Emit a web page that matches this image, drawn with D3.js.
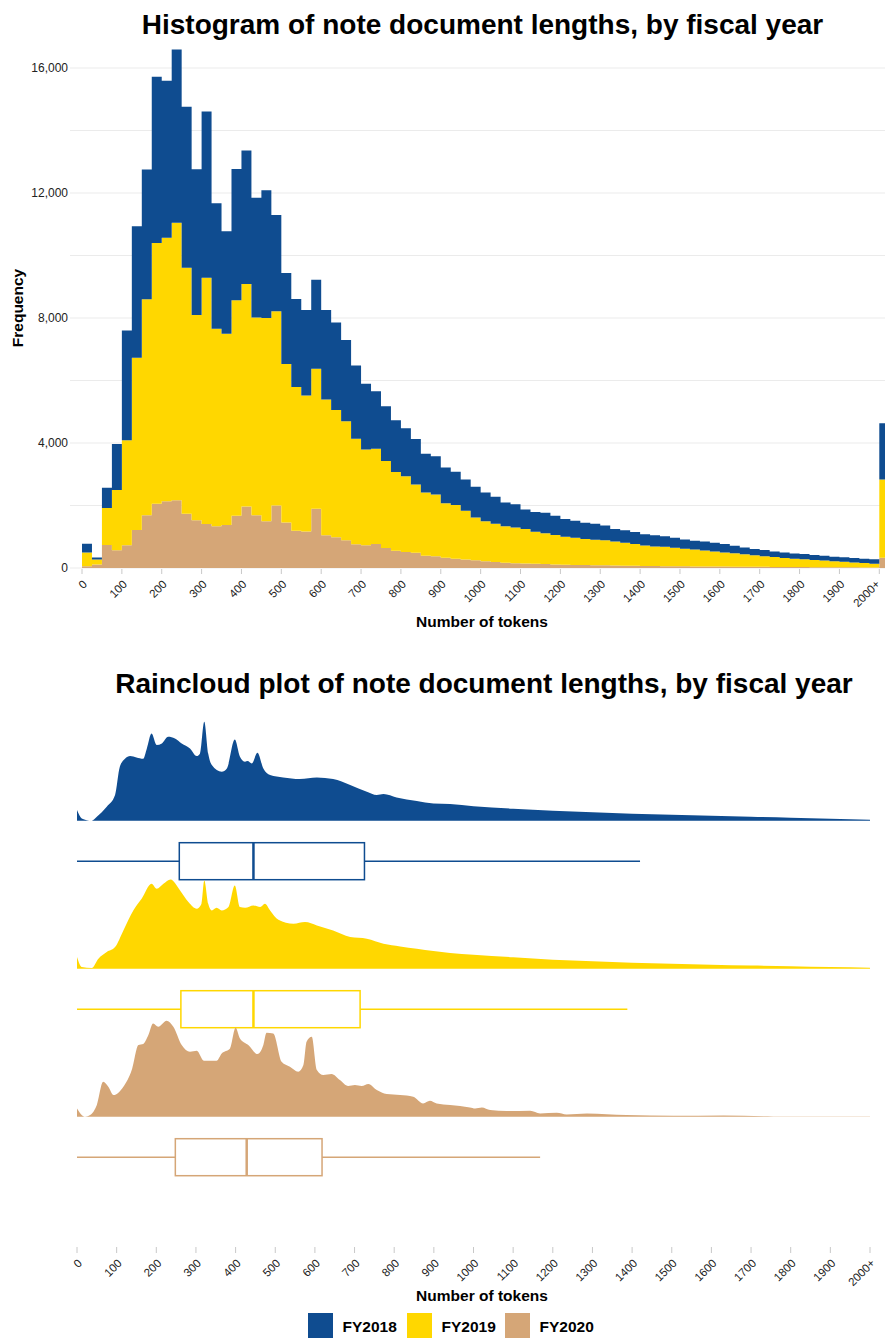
<!DOCTYPE html>
<html><head><meta charset="utf-8">
<script src="https://cdn.jsdelivr.net/npm/d3@7"></script>
<style>
body{margin:0;background:#fff}
text{font-family:"Liberation Sans",Arial,Helvetica,sans-serif}
</style>
</head><body>
<svg id="chart" width="885" height="1338"></svg>
<script>
// ---------------- DATA ----------------
const years = ["FY2018", "FY2019", "FY2020"];
const colors = ["#0f4c90", "#ffd700", "#d5a677"];

// histogram bin starts (token count, bin width 25; last bin = 2000+)
const binStarts = [0,25,50,75,100,125,150,175,200,225,250,275,300,325,350,375,400,425,450,475,
  500,525,550,575,600,625,650,675,700,725,750,775,800,825,850,875,900,925,950,975,
  1000,1025,1050,1075,1100,1125,1150,1175,1200,1225,1250,1275,1300,1325,1350,1375,1400,1425,1450,1475,
  1500,1525,1550,1575,1600,1625,1650,1675,1700,1725,1750,1775,1800,1825,1850,1875,1900,1925,1950,1975,2000];
const binWidth = 25;

const fy2018 = [280,65,650,1470,3510,4215,4150,5320,5020,5540,5150,4660,5320,4010,3280,4205,4270,3835,4090,3080,
  2910,2820,2740,2850,2865,2800,2600,2340,2110,1835,1750,1650,1540,1455,1245,1225,1145,1060,1000,980,
  920,860,760,740,620,630,660,610,570,545,520,515,475,405,405,380,360,360,340,315,
  295,280,290,280,265,245,215,200,195,180,180,165,170,160,150,140,145,140,140,140,1795];
const fy2019 = [440,160,1180,1930,3365,5505,6915,8345,8430,8880,7870,6570,7880,6325,6120,6895,7120,6330,6500,6220,
  5070,4600,4350,4475,4345,4075,3815,3380,3065,3050,2785,2520,2420,2190,2020,1975,1750,1720,1560,1375,
  1285,1230,1170,1145,1105,1025,985,945,895,865,835,815,800,765,730,700,655,628,620,592,
  565,538,510,482,454,426,398,370,342,314,286,268,250,232,214,195,176,158,140,122,2505];
const fy2020 = [60,110,740,570,725,1220,1685,2055,2140,2170,1740,1530,1410,1335,1380,1670,1970,1685,1500,2000,
  1460,1190,1170,1900,1045,985,885,760,725,770,640,555,515,485,395,375,325,300,270,245,
  215,190,170,155,145,135,125,115,105,100,95,90,85,80,75,70,65,62,60,58,
  55,52,50,48,46,44,42,40,38,36,34,32,30,28,26,25,24,22,20,18,330];

const freqTicks = [0, 4000, 8000, 12000, 16000];
const freqGrid = [0, 2000, 4000, 6000, 8000, 10000, 12000, 14000, 16000];
const tokenTicks = [0,100,200,300,400,500,600,700,800,900,1000,1100,1200,1300,1400,1500,1600,1700,1800,1900,2000];
const tokenTickLabels = ["0","100","200","300","400","500","600","700","800","900","1000","1100","1200","1300","1400","1500","1600","1700","1800","1900","2000+"];

// raincloud densities: [tokens, relative density]
const dens2018 = [[0,10.7],[12,2.3],[37,0],[50,4],[75,14],[96,25.7],[108,54],[121,62],[134,64.7],[150,63.3],[167,62],
  [176,72],[188,87.3],[201,75.7],[214,77.3],[230,84],[247,82.3],[264,77.3],[285,72.3],[302,64.7],[310,67],[321,99],
  [331,67],[340,55.7],[365,49],[378,52.3],[398,81.3],[411,64],[424,59],[430,59.7],[441,57.3],[455,68],[470,52.3],
  [487,45.7],[520,43.3],[562,41.7],[605,43.3],[646,41.7],[689,35.7],[731,29],[756,25.7],[773,26.7],[806,23.3],
  [857,19.7],[899,17.3],[941,16.7],[1000,14.5],[1100,12],[1200,10],[1300,8.5],[1400,7],[1500,6],[1600,5],
  [1700,4],[1800,3],[1900,2],[2000,1]];
const dens2019 = [[0,11.7],[12,1.7],[37,0.7],[54,10],[75,16.7],[96,21.7],[117,38.3],[142,58.3],[163,70],[188,85],
  [201,80],[218,85],[236,89.3],[260,78.3],[281,66.7],[302,60],[314,65],[321,88.3],[331,65],[340,58.3],[352,61],
  [365,58.3],[382,61.7],[398,83.3],[411,61.7],[424,61],[445,63.3],[462,61.7],[474,65],[487,58.3],[508,49],
  [546,45],[575,46.7],[605,43.3],[646,38.3],[689,31.7],[731,30],[773,25],[815,22.3],[857,20],[899,17.7],
  [941,15.7],[1000,14],[1100,11.5],[1200,9],[1300,7.5],[1400,6],[1500,5],[1600,4],[1700,3.2],[1800,2.5],
  [1900,1.7],[2000,1]];
const dens2020 = [[0,8.3],[20,0],[33,1.7],[50,11.7],[66,35],[79,30],[92,21.7],[117,30],[138,46.7],[155,71.7],
  [167,72.7],[180,81.7],[192,93.3],[205,90],[226,96],[243,90],[264,71.7],[285,65],[302,66],[320,56],[352,56],
  [365,63.3],[386,68.3],[400,89],[411,78.3],[432,71.7],[455,62.7],[470,71.7],[478,84],[495,83.3],[516,55],
  [537,50],[558,45],[571,51.7],[579,75],[592,80],[605,46.7],[621,41.7],[642,42.7],[663,36.7],[684,30.7],
  [701,31.7],[718,30.7],[735,32.7],[756,26.7],[781,22.7],[815,21.7],[848,20],[873,13.3],[890,16],[907,13.3],
  [941,11.7],[991,9.3],[1004,8.3],[1021,9.3],[1042,6.7],[1084,5.7],[1143,6],[1168,3.3],[1210,4],[1235,2.3],
  [1286,3.3],[1386,1.7],[1504,1],[1630,1.3],[1756,0.3],[2000,0.2]];
const densities = [dens2018, dens2019, dens2020];

// box plot stats (tokens)
const boxLow = [0, 0, 0];
const boxQ1 = [258, 262, 248];
const boxMedian = [445, 445, 428];
const boxQ3 = [725, 714, 618];
const boxHigh = [1420, 1388, 1168];

// ---------------- DRAW ----------------
const svg = d3.select("#chart");

// ===== Histogram =====
svg.append("text").attr("x", 482.5).attr("y", 34.3).attr("text-anchor", "middle")
  .attr("font-size", 28).attr("font-weight", "bold").attr("fill", "#000")
  .text("Histogram of note document lengths, by fiscal year");

const hx = d3.scaleLinear().domain([0, 2000]).range([82, 879.3]);
const hy = d3.scaleLinear().domain([0, 16000]).range([568, 68]);

const g1 = svg.append("g");
g1.selectAll("line.grid").data(freqGrid).join("line").attr("class", "grid")
  .attr("x1", 70).attr("x2", 885).attr("y1", d => hy(d)).attr("y2", d => hy(d))
  .attr("stroke", "#ebebeb").attr("stroke-width", 1);

g1.selectAll("text.ytick").data(freqTicks).join("text").attr("class", "ytick")
  .attr("x", 68).attr("y", d => hy(d)).attr("dy", "0.35em").attr("text-anchor", "end")
  .attr("font-size", 12).attr("fill", "#222").text(d => d3.format(",")(d));

const table = binStarts.map((b, i) => ({ bin: b, FY2018: fy2018[i], FY2019: fy2019[i], FY2020: fy2020[i] }));
const stack = d3.stack().keys(["FY2020", "FY2019", "FY2018"])(table);
const colorOf = d3.scaleOrdinal().domain(years).range(colors);

svg.append("clipPath").attr("id", "hclip").append("rect")
  .attr("x", 0).attr("y", 0).attr("width", 885).attr("height", 600);

const stepArea = d3.area()
  .x(p => p.x).y0(p => hy(p.lo)).y1(p => hy(p.hi))
  .curve(d3.curveStepAfter);

g1.append("g").attr("clip-path", "url(#hclip)").selectAll("path").data(stack).join("path")
  .attr("fill", d => colorOf(d.key))
  .attr("d", layer => {
    const pts = layer.map(d => ({ x: hx(d.data.bin), lo: d[0], hi: d[1] }));
    const last = layer[layer.length - 1];
    pts.push({ x: hx(last.data.bin + binWidth), lo: last[0], hi: last[1] });
    return stepArea(pts);
  });

// x ticks
g1.selectAll("line.xt").data(tokenTicks).join("line").attr("class", "xt")
  .attr("x1", d => hx(d)).attr("x2", d => hx(d)).attr("y1", 569).attr("y2", 574)
  .attr("stroke", "#c8c8c8").attr("stroke-width", 1);
g1.selectAll("text.xl").data(tokenTicks).join("text").attr("class", "xl")
  .attr("transform", d => `translate(${Math.min(hx(d), 875)},579) rotate(-45)`)
  .attr("text-anchor", "end").attr("dy", "0.72em")
  .attr("font-size", 11.5).attr("fill", "#222")
  .text((d, i) => tokenTickLabels[i]);

svg.append("text").attr("x", 482).attr("y", 626.5).attr("text-anchor", "middle")
  .attr("font-size", 15.5).attr("font-weight", "bold").text("Number of tokens");
svg.append("text").attr("transform", "translate(22.5,308) rotate(-90)").attr("text-anchor", "middle")
  .attr("font-size", 15.5).attr("font-weight", "bold").text("Frequency");

// ===== Raincloud =====
svg.append("text").attr("x", 484).attr("y", 692.5).attr("text-anchor", "middle")
  .attr("font-size", 28).attr("font-weight", "bold")
  .text("Raincloud plot of note document lengths, by fiscal year");

const rx = d3.scaleLinear().domain([0, 2000]).range([77, 870]);
const rowBase = d3.scalePoint().domain(years).range([820.7, 1116.7]);
const dh = d3.scaleLinear().domain([0, 100]).range([0, 100]);

years.forEach((yr, i) => {
  const base = rowBase(yr);
  const area = d3.area()
    .x(d => rx(d[0]))
    .y0(base)
    .y1(d => base - dh(d[1]))
    .curve(d3.curveMonotoneX);
  svg.append("path").datum(densities[i]).attr("d", area).attr("fill", colors[i]);

  const cy = base + 40.5;
  const bt = base + 22, bh = 37;
  svg.append("line").attr("x1", rx(boxLow[i])).attr("x2", rx(boxQ1[i]))
    .attr("y1", cy).attr("y2", cy).attr("stroke", colors[i]).attr("stroke-width", 1.5);
  svg.append("line").attr("x1", rx(boxQ3[i])).attr("x2", rx(boxHigh[i]))
    .attr("y1", cy).attr("y2", cy).attr("stroke", colors[i]).attr("stroke-width", 1.5);
  svg.append("rect").attr("x", rx(boxQ1[i])).attr("y", bt)
    .attr("width", rx(boxQ3[i]) - rx(boxQ1[i])).attr("height", bh)
    .attr("fill", "#fff").attr("stroke", colors[i]).attr("stroke-width", 1.5);
  svg.append("line").attr("x1", rx(boxMedian[i])).attr("x2", rx(boxMedian[i]))
    .attr("y1", bt).attr("y2", bt + bh).attr("stroke", colors[i]).attr("stroke-width", 2.5);
});

svg.selectAll("line.rxt").data(tokenTicks).join("line").attr("class", "rxt")
  .attr("x1", d => rx(d)).attr("x2", d => rx(d)).attr("y1", 1247).attr("y2", 1253)
  .attr("stroke", "#c8c8c8").attr("stroke-width", 1);
svg.selectAll("text.rxl").data(tokenTicks).join("text").attr("class", "rxl")
  .attr("transform", d => `translate(${rx(d)},1258) rotate(-45)`)
  .attr("text-anchor", "end").attr("dy", "0.72em")
  .attr("font-size", 11.5).attr("fill", "#222")
  .text((d, i) => tokenTickLabels[i]);

svg.append("text").attr("x", 482).attr("y", 1300.5).attr("text-anchor", "middle")
  .attr("font-size", 15.5).attr("font-weight", "bold").text("Number of tokens");

// legend
const legendX = [308, 407, 505];
const lg = svg.selectAll("g.leg").data(years).join("g").attr("class", "leg")
  .attr("transform", (d, i) => `translate(${legendX[i]},1313)`);
lg.append("rect").attr("width", 25).attr("height", 25).attr("fill", (d, i) => colors[i]);
lg.append("text").attr("x", 34.5).attr("y", 19).attr("font-size", 15.5).attr("font-weight", "bold").text(d => d);
</script>
</body></html>
